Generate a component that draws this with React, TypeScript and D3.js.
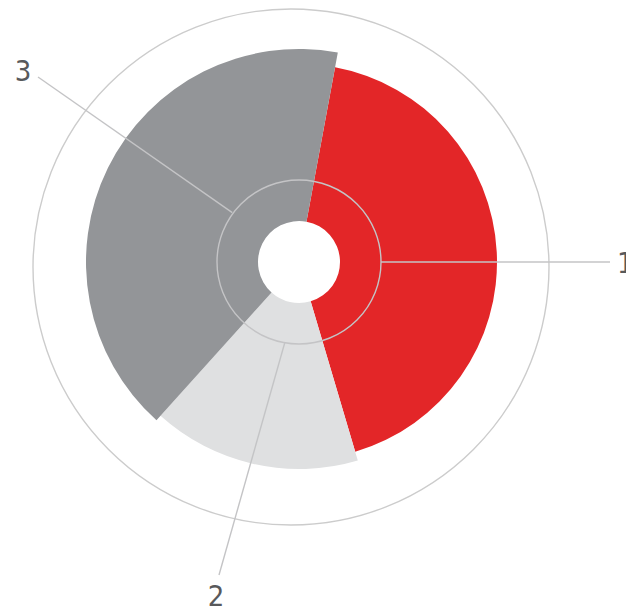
import React from "react";
import * as d3 from "d3";

const labels = ["1", "2", "3"];
const shares = [153, 58.5, 148.5];
const radii = [198, 207, 213];
const colors = ["#e32628", "#dfe0e1", "#939598"];

const W = 626;
const H = 609;
const cx = 299;
const cy = 262;

export default function App() {
  const pie = d3
    .pie<number>()
    .sort(null)
    .value((d) => d)
    .startAngle((10.5 * Math.PI) / 180)
    .endAngle((370.5 * Math.PI) / 180);
  const arcs = pie(shares);

  const leaders = [
    { a: 90, r: 82, x2: 610, y2: 262, tx: 617, ty: 273, anchor: "start" },
    { a: 190, r: 82, x2: 219, y2: 575, tx: 216, ty: 606, anchor: "middle" },
    { a: 306.5, r: 83, x2: 38, y2: 77, tx: 23, ty: 81, anchor: "middle" },
  ];

  return (
    <svg
      width={W}
      height={H}
      style={{ position: "absolute", left: 0, top: 0 }}
    >
      <circle cx={291} cy={267} r={258} fill="none" stroke="#cccccc" strokeWidth={1.4} />
      <g transform={`translate(${cx},${cy})`}>
        {arcs.map((a, i) => {
          const path = d3.arc<any>().innerRadius(41).outerRadius(radii[i])(a) as string;
          return <path key={i} d={path} fill={colors[i]} />;
        })}
        <circle r={82} fill="none" stroke="#c4c4c6" strokeWidth={1.4} />
      </g>
      {leaders.map((l, i) => {
        const rad = (l.a * Math.PI) / 180;
        const x1 = cx + Math.sin(rad) * l.r;
        const y1 = cy - Math.cos(rad) * l.r;
        return (
          <g key={i}>
            <line x1={x1} y1={y1} x2={l.x2} y2={l.y2} stroke="#c4c4c6" strokeWidth={1.4} />
            <text
              x={l.tx}
              y={l.ty}
              textAnchor={l.anchor as any}
              fontFamily="'Liberation Sans Narrow', 'DejaVu Sans Condensed', 'DejaVu Sans', sans-serif"
              style={{ fontStretch: "condensed" }}
              fontSize={29}
              fill="#58595b"
            >
              {labels[i]}
            </text>
          </g>
        );
      })}
    </svg>
  );
}
